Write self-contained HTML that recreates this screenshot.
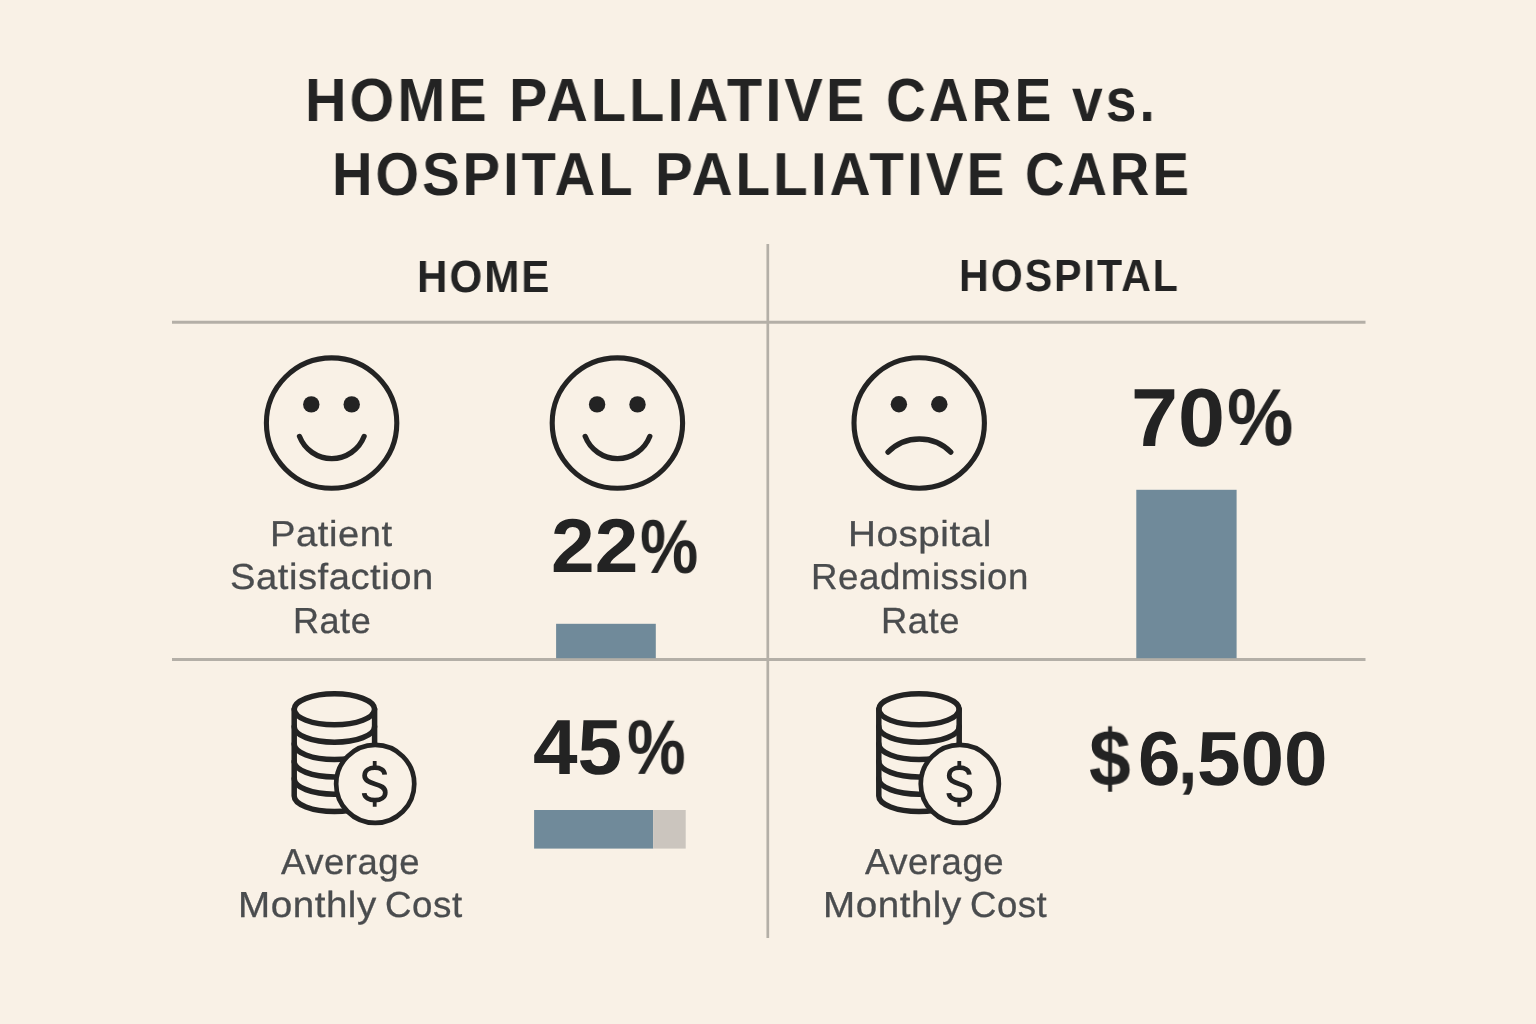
<!DOCTYPE html>
<html lang="en"><head><meta charset="utf-8"><title>Home Palliative Care vs. Hospital Palliative Care</title>
<style>
html,body{margin:0;padding:0}
body{width:1536px;height:1024px;overflow:hidden;background:#f9f1e6;position:relative;font-family:"Liberation Sans",sans-serif}
svg#g{position:absolute;left:0;top:0}
.t{position:absolute;will-change:transform;white-space:nowrap;line-height:1;text-rendering:geometricPrecision;transform-origin:0 0;font-family:"Liberation Sans",sans-serif}
#t1a{left:305.01px;top:69.65px;font-size:60.60px;font-weight:bold;color:#232323;transform:scale(0.9477,1.0059);letter-spacing:3.30px}
#t1b{left:509.10px;top:69.85px;font-size:60.60px;font-weight:bold;color:#232323;transform:scale(0.9495,1.0059);letter-spacing:3.30px}
#t1c{left:885.50px;top:70.05px;font-size:60.60px;font-weight:bold;color:#232323;transform:scale(0.9101,1.0059);letter-spacing:3.30px}
#t1d{left:1071.79px;top:69.65px;font-size:60.60px;font-weight:bold;color:#232323;transform:scale(0.9121,1.0059);letter-spacing:3.30px}
#t2a{left:332.17px;top:144.15px;font-size:60.60px;font-weight:bold;color:#232323;transform:scale(0.9247,0.9996);letter-spacing:3.30px}
#t2b{left:655.12px;top:144.15px;font-size:60.60px;font-weight:bold;color:#232323;transform:scale(0.9336,0.9996);letter-spacing:3.30px}
#t2c{left:1025.49px;top:144.15px;font-size:60.60px;font-weight:bold;color:#232323;transform:scale(0.9023,0.9996);letter-spacing:3.30px}
#h1{left:416.90px;top:253.81px;font-size:45.00px;font-weight:bold;color:#232323;transform:scale(0.9350,1.0000);letter-spacing:2.20px}
#h2{left:958.50px;top:253.41px;font-size:45.00px;font-weight:bold;color:#232323;transform:scale(0.9138,1.0000);letter-spacing:2.20px}
#a1{left:270.27px;top:515.98px;font-size:36.00px;font-weight:normal;color:#4a4c4e;transform:scale(1.0602,0.9993);letter-spacing:0.50px;-webkit-text-stroke:0.3px #4a4c4e}
#a2{left:229.77px;top:559.00px;font-size:36.00px;font-weight:normal;color:#4a4c4e;transform:scale(1.0604,1.0063);letter-spacing:0.50px;-webkit-text-stroke:0.3px #4a4c4e}
#a3{left:293.48px;top:602.87px;font-size:36.00px;font-weight:normal;color:#4a4c4e;transform:scale(1.0020,1.0049);letter-spacing:0.50px;-webkit-text-stroke:0.3px #4a4c4e}
#b1{left:847.73px;top:515.98px;font-size:36.00px;font-weight:normal;color:#4a4c4e;transform:scale(1.0731,0.9993);letter-spacing:0.50px;-webkit-text-stroke:0.3px #4a4c4e}
#b2{left:811.17px;top:559.00px;font-size:36.00px;font-weight:normal;color:#4a4c4e;transform:scale(1.0198,1.0063);letter-spacing:0.50px;-webkit-text-stroke:0.3px #4a4c4e}
#b3{left:880.77px;top:602.55px;font-size:36.00px;font-weight:normal;color:#4a4c4e;transform:scale(1.0106,1.0092);letter-spacing:0.50px;-webkit-text-stroke:0.3px #4a4c4e}
#c1{left:281.01px;top:843.98px;font-size:36.00px;font-weight:normal;color:#4a4c4e;transform:scale(1.0149,0.9993);letter-spacing:0.50px;-webkit-text-stroke:0.3px #4a4c4e}
#c2a{left:237.70px;top:886.62px;font-size:36.00px;font-weight:normal;color:#4a4c4e;transform:scale(1.0713,1.0070);letter-spacing:0.50px;-webkit-text-stroke:0.3px #4a4c4e}
#c2b{left:385.26px;top:886.62px;font-size:36.00px;font-weight:normal;color:#4a4c4e;transform:scale(1.0207,1.0070);letter-spacing:0.50px;-webkit-text-stroke:0.3px #4a4c4e}
#d1{left:864.79px;top:844.40px;font-size:36.00px;font-weight:normal;color:#4a4c4e;transform:scale(1.0157,1.0070);letter-spacing:0.50px;-webkit-text-stroke:0.3px #4a4c4e}
#d2a{left:822.96px;top:886.62px;font-size:36.00px;font-weight:normal;color:#4a4c4e;transform:scale(1.0713,1.0070);letter-spacing:0.50px;-webkit-text-stroke:0.3px #4a4c4e}
#d2b{left:969.55px;top:887.16px;font-size:36.00px;font-weight:normal;color:#4a4c4e;transform:scale(1.0163,1.0073);letter-spacing:0.50px;-webkit-text-stroke:0.3px #4a4c4e}
#n1a{left:551.10px;top:508.23px;font-size:75.00px;font-weight:bold;color:#232323;transform:scale(1.0460,1.0170);letter-spacing:0.00px}
#n1b{left:640.18px;top:508.74px;font-size:75.00px;font-weight:bold;color:#232323;transform:scale(0.8720,1.0184);letter-spacing:0.00px}
#n2a{left:1131.17px;top:377.15px;font-size:80.00px;font-weight:bold;color:#232323;transform:scale(1.0565,1.0310);letter-spacing:0.00px}
#n2b{left:1226.74px;top:377.37px;font-size:80.00px;font-weight:bold;color:#232323;transform:scale(0.9328,1.0085);letter-spacing:0.00px}
#n3a{left:533.35px;top:708.21px;font-size:75.00px;font-weight:bold;color:#232323;transform:scale(1.0682,1.0404);letter-spacing:0.00px}
#n3b{left:627.17px;top:708.97px;font-size:75.00px;font-weight:bold;color:#232323;transform:scale(0.8801,1.0324);letter-spacing:0.00px}
#n4a{left:1088.59px;top:719.21px;font-size:76.00px;font-weight:bold;color:#232323;transform:scale(0.9876,1.0567);letter-spacing:0.00px}
#n4b{left:1138.35px;top:720.64px;font-size:74.38px;font-weight:bold;color:#232323;transform:scale(1.0251,1.0324);letter-spacing:0.00px}
#n4c{left:1177.82px;top:722.84px;font-size:76.00px;font-weight:bold;color:#232323;transform:scale(0.9198,0.9587);letter-spacing:0.00px}
#n4d{left:1196.75px;top:720.82px;font-size:74.38px;font-weight:bold;color:#232323;transform:scale(1.0529,1.0309);letter-spacing:0.00px}
</style></head><body>
<svg id="g" width="1536" height="1024" viewBox="0 0 1536 1024">
<g stroke="#b4afa7" fill="none">
<line x1="767.8" y1="244" x2="767.8" y2="938" stroke-width="2.7"/>
<line x1="172" y1="322.2" x2="1365.5" y2="322.2" stroke-width="3"/>
<line x1="172" y1="659.5" x2="1365.5" y2="659.5" stroke-width="3"/>
</g>
<g fill="#708a9a">
<rect x="556.1" y="623.8" width="99.7" height="34.4"/>
<rect x="1136.3" y="489.8" width="100.3" height="168.4"/>
<rect x="534.1" y="810" width="119.1" height="38.6"/>
</g>
<rect x="653.2" y="810" width="32.5" height="38.6" fill="#cbc5be"/>
<g fill="none" stroke="#232323" stroke-width="5.1" stroke-linecap="round" transform="translate(331.6 423.1)">
<circle cx="0" cy="0" r="65.2"/>
<circle cx="-20.3" cy="-18.7" r="8.2" fill="#232323" stroke="none"/>
<circle cx="20.1" cy="-18.7" r="8.2" fill="#232323" stroke="none"/>
</g>
<path d="M299.5 436.4A34.6 34.6 0 0 0 364.1 436.4" fill="none" stroke="#232323" stroke-width="5.3" stroke-linecap="round"/>
<g fill="none" stroke="#232323" stroke-width="5.1" stroke-linecap="round" transform="translate(617.4 423.1)">
<circle cx="0" cy="0" r="65.2"/>
<circle cx="-20.3" cy="-18.7" r="8.2" fill="#232323" stroke="none"/>
<circle cx="20.1" cy="-18.7" r="8.2" fill="#232323" stroke="none"/>
</g>
<path d="M585.2 436.4A34.6 34.6 0 0 0 649.8 436.4" fill="none" stroke="#232323" stroke-width="5.3" stroke-linecap="round"/>
<g fill="none" stroke="#232323" stroke-width="5.1" stroke-linecap="round" transform="translate(919.2 423)">
<circle cx="0" cy="0" r="65.2"/>
<circle cx="-20.3" cy="-18.7" r="8.2" fill="#232323" stroke="none"/>
<circle cx="20.1" cy="-18.7" r="8.2" fill="#232323" stroke="none"/>
</g>
<path d="M888 452.2A44 44 0 0 1 950.8 452.2" fill="none" stroke="#232323" stroke-width="5.3" stroke-linecap="round"/>
<g fill="none" stroke="#232323" stroke-width="5.5" stroke-linecap="round" transform="translate(0 0)">
<ellipse cx="334.4" cy="709.3" rx="40.2" ry="15.5"/>
<path d="M294.2 709.3V796.1A40.2 15.5 0 0 0 374.6 796.1V709.3"/>
<path d="M294.2 726.7A40.2 15.5 0 0 0 374.6 726.7"/>
<path d="M294.2 744A40.2 15.5 0 0 0 374.6 744"/>
<path d="M294.2 761.4A40.2 15.5 0 0 0 374.6 761.4"/>
<path d="M294.2 778.7A40.2 15.5 0 0 0 374.6 778.7"/>
<circle cx="375.2" cy="783.9" r="39.05" fill="#f9f1e6" stroke-width="4.7"/>
<path d="M384.7 774.6C384.4 769.9 380.3 767.7 374.9 767.7C369 767.7 364.6 770.7 364.6 775.5C364.6 780.2 368.5 782.1 374.9 783.9C381.3 785.7 385.3 787.6 385.3 792.4C385.3 797.2 380.8 800.2 374.9 800.2C369 800.2 364.5 797.5 364.2 793.2" stroke-width="4.7" stroke-linecap="butt"/>
<path d="M374.7 760.9V767.7M374.7 800.2V806.7" stroke-width="3.8" stroke-linecap="butt"/>
</g>
<g fill="none" stroke="#232323" stroke-width="5.5" stroke-linecap="round" transform="translate(584.6 0)">
<ellipse cx="334.4" cy="709.3" rx="40.2" ry="15.5"/>
<path d="M294.2 709.3V796.1A40.2 15.5 0 0 0 374.6 796.1V709.3"/>
<path d="M294.2 726.7A40.2 15.5 0 0 0 374.6 726.7"/>
<path d="M294.2 744A40.2 15.5 0 0 0 374.6 744"/>
<path d="M294.2 761.4A40.2 15.5 0 0 0 374.6 761.4"/>
<path d="M294.2 778.7A40.2 15.5 0 0 0 374.6 778.7"/>
<circle cx="375.2" cy="783.9" r="39.05" fill="#f9f1e6" stroke-width="4.7"/>
<path d="M384.7 774.6C384.4 769.9 380.3 767.7 374.9 767.7C369 767.7 364.6 770.7 364.6 775.5C364.6 780.2 368.5 782.1 374.9 783.9C381.3 785.7 385.3 787.6 385.3 792.4C385.3 797.2 380.8 800.2 374.9 800.2C369 800.2 364.5 797.5 364.2 793.2" stroke-width="4.7" stroke-linecap="butt"/>
<path d="M374.7 760.9V767.7M374.7 800.2V806.7" stroke-width="3.8" stroke-linecap="butt"/>
</g>
</svg>

<div class="t" id="t1a">HOME</div>
<div class="t" id="t1b">PALLIATIVE</div>
<div class="t" id="t1c">CARE</div>
<div class="t" id="t1d">vs.</div>
<div class="t" id="t2a">HOSPITAL</div>
<div class="t" id="t2b">PALLIATIVE</div>
<div class="t" id="t2c">CARE</div>
<div class="t" id="h1">HOME</div>
<div class="t" id="h2">HOSPITAL</div>
<div class="t" id="a1">Patient</div>
<div class="t" id="a2">Satisfaction</div>
<div class="t" id="a3">Rate</div>
<div class="t" id="b1">Hospital</div>
<div class="t" id="b2">Readmission</div>
<div class="t" id="b3">Rate</div>
<div class="t" id="c1">Average</div>
<div class="t" id="c2a">Monthly</div>
<div class="t" id="c2b">Cost</div>
<div class="t" id="d1">Average</div>
<div class="t" id="d2a">Monthly</div>
<div class="t" id="d2b">Cost</div>
<div class="t" id="n1a">22</div>
<div class="t" id="n1b">%</div>
<div class="t" id="n2a">70</div>
<div class="t" id="n2b">%</div>
<div class="t" id="n3a">45</div>
<div class="t" id="n3b">%</div>
<div class="t" id="n4a">$</div>
<div class="t" id="n4b">6</div>
<div class="t" id="n4c">,</div>
<div class="t" id="n4d">500</div>
</body></html>
